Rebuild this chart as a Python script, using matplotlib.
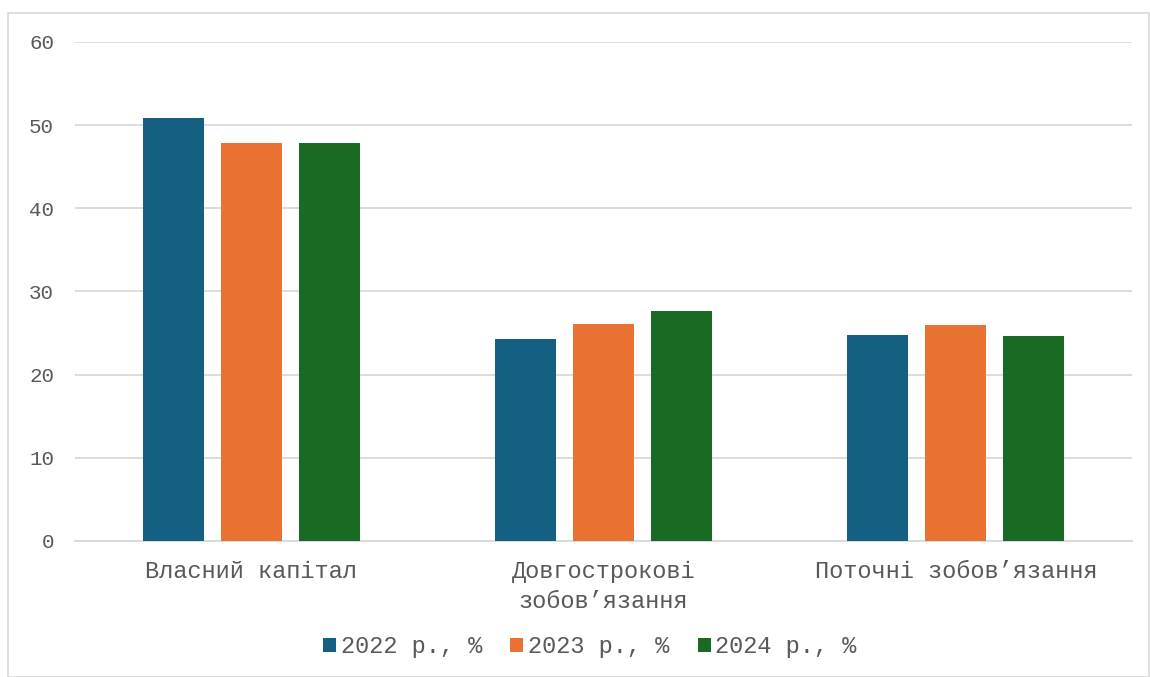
import matplotlib
matplotlib.use("Agg")
import matplotlib.pyplot as plt
import numpy as np
from matplotlib.patches import Rectangle

# data
categories = ["Власний капітал", "Довгострокові\nзобов’язання", "Поточні зобов’язання"]
series_names = ["2022 р., %", "2023 р., %", "2024 р., %"]
values_2022 = [50.9, 24.3, 24.8]
values_2023 = [47.9, 26.1, 26.0]
values_2024 = [47.8, 27.6, 24.7]
y_ticks = [0, 10, 20, 30, 40, 50, 60]

colors = ["#156082", "#E97132", "#196B24"]
text_color = "#595959"
grid_color = "#D9D9D9"
font = ["Liberation Mono", "DejaVu Sans Mono"]

fig = plt.figure(figsize=(11.5, 6.77), dpi=100)
ax = fig.add_axes([0.0652, 0.2009, 0.9191, 0.7371])

# outer chart border
fig.patches.append(Rectangle((0.007, 0.0), 0.992, 0.981, transform=fig.transFigure,
                             fill=False, edgecolor="#D9D9D9", linewidth=1.2))

x = np.arange(len(categories))
width = 0.173
step = 0.2216
for i, (vals, name) in enumerate(zip([values_2022, values_2023, values_2024], series_names)):
  ax.bar(x + (i - 1) * step, vals, width, color=colors[i], label=name, zorder=3)

ax.set_xlim(-0.5, len(categories) - 0.5)
ax.set_ylim(0, 60)
ax.set_yticks(y_ticks)
ax.set_yticklabels([str(t) for t in y_ticks], family=font, fontsize=15, color=text_color)
ax.set_xticks(x)
ax.set_xticklabels(categories, family=font, fontsize=17, color=text_color, linespacing=1.35)
ax.tick_params(axis="both", length=0)
ax.tick_params(axis="y", pad=15)
ax.tick_params(axis="x", pad=14)
ax.grid(axis="y", color=grid_color, linewidth=1.3, zorder=0)
for s in ["top", "right", "left"]:
  ax.spines[s].set_visible(False)
ax.spines["bottom"].set_color(grid_color)
ax.spines["bottom"].set_linewidth(1.3)

leg = fig.legend(loc="center", bbox_to_anchor=(0.513, 0.045), ncol=3, frameon=False,
                 prop={"family": font, "size": 17}, handlelength=0.55, handleheight=0.55,
                 handletextpad=0.2, columnspacing=1.2)
for t in leg.get_texts():
  t.set_color(text_color)

fig.savefig("out.png", dpi=100)
